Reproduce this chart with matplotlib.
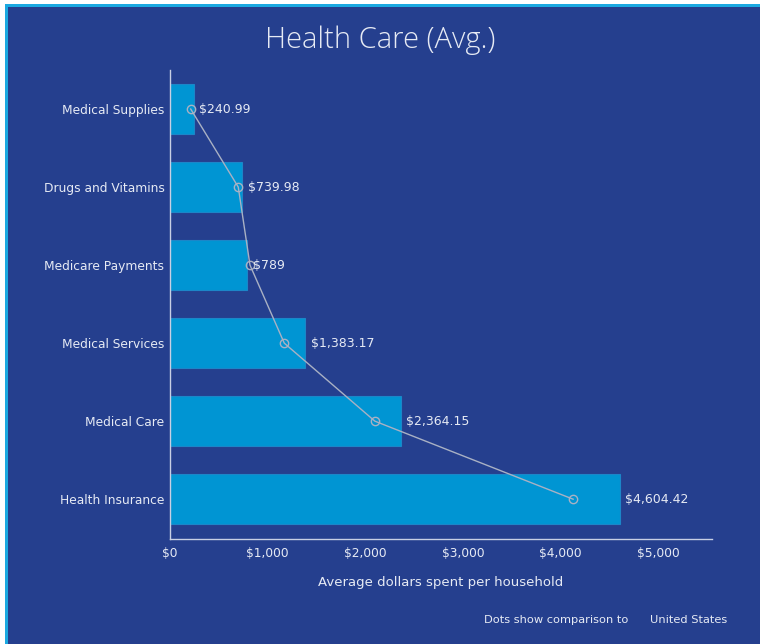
import matplotlib.pyplot as plt
from matplotlib.patches import Rectangle

categories = ['Health Insurance', 'Medical Care', 'Medical Services',
              'Medicare Payments', 'Drugs and Vitamins', 'Medical Supplies']
values = [4604.42, 2364.15, 1383.17, 789, 739.98, 240.99]
value_labels = ['$4,604.42', '$2,364.15', '$1,383.17', '$789', '$739.98', '$240.99']
us_values = [4128, 2098, 1170, 819, 699, 212]
xticks = [0, 1000, 2000, 3000, 4000, 5000]
xtick_labels = ['$0', '$1,000', '$2,000', '$3,000', '$4,000', '$5,000']

bg = '#253f8e'
bar_color = '#0095d3'
text_color = '#e6eaf4'

fig = plt.figure(figsize=(7.6, 6.44), dpi=100)
fig.patch.set_facecolor('white')
# background panel with cyan top/left edge
fig.add_artist(Rectangle((5/760, 0), 1, 1 - 4/644, transform=fig.transFigure,
                         facecolor='#1ba9e1', edgecolor='none', zorder=-10))
fig.add_artist(Rectangle((8/760, 0), 1, 1 - 7/644, transform=fig.transFigure,
                         facecolor=bg, edgecolor='none', zorder=-9))

ax = fig.add_axes([170/760, 1 - 539/644, 542/760, 469/644])
ax.set_facecolor('none')
ax.set_zorder(1)

ypos = list(range(len(categories)))
ax.barh(ypos, values, height=0.64, color=bar_color, edgecolor='#1c86c8', linewidth=0.8, zorder=2)
ax.plot(us_values, ypos, color='#a9b1c4', linewidth=1, marker='o', markersize=6,
        markerfacecolor='none', markeredgecolor='#a9b1c4', markeredgewidth=1, zorder=3)

for y, v, lab in zip(ypos, values, value_labels):
    ax.annotate(lab, (v, y), xytext=(4, 0), textcoords='offset points',
                va='center', ha='left', color=text_color, fontsize=9, zorder=4)

ax.set_xlim(0, 5550)
ax.set_ylim(-0.51, 5.5)
ax.set_yticks(ypos)
ax.set_yticklabels(categories)
ax.set_xticks(xticks)
ax.set_xticklabels(xtick_labels)
ax.tick_params(axis='both', length=0, colors=text_color, labelsize=8.8)
ax.tick_params(axis='y', pad=4)
ax.tick_params(axis='x', pad=6)

for s in ['top', 'right']:
    ax.spines[s].set_visible(False)
ax.spines['left'].set_color('#c8cfe4')
ax.spines['bottom'].set_color('#c8cfe4')
ax.spines['left'].set_linewidth(1)
ax.spines['bottom'].set_linewidth(1)

ax.set_xlabel('Average dollars spent per household', color=text_color, fontsize=9.5, labelpad=11)

fig.text(380/760, 1 - 40/644, 'Health Care (Avg.)', ha='center', va='center',
         color=text_color, fontsize=21, family='Open Sans', fontweight='light')
fig.text(628/760, 1 - 623/644, 'Dots show comparison to', ha='right', va='baseline',
         color=text_color, fontsize=8.2)
fig.text(650/760, 1 - 623/644, 'United States', ha='left', va='baseline',
         color=text_color, fontsize=8.2)

fig.savefig('out.png', dpi=100, facecolor=fig.get_facecolor())
